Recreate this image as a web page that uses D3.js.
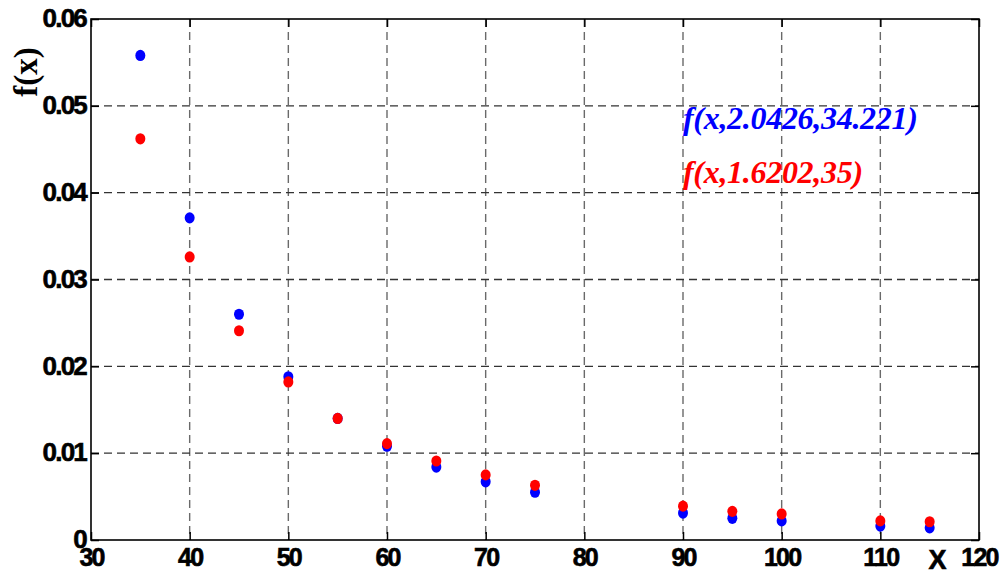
<!DOCTYPE html>
<html>
<head>
<meta charset="utf-8">
<script src="https://cdn.jsdelivr.net/npm/d3@7"></script>
<style>
  body { margin: 0; background: #fff; }
  svg { display: block; }
  .tick text { font-family: "Liberation Sans", Arial, sans-serif; font-weight: bold; font-size: 26px; letter-spacing: -1.8px; fill: #000; stroke: #000; stroke-width: 0.6px; }
</style>
</head>
<body>
<svg id="chart" width="1004" height="575"></svg>
<script>
// x positions shared by both series
var xValues = [35, 40, 45, 50, 55, 60, 65, 70, 75, 90, 95, 100, 110, 115];
// f(x, 2.0426, 34.221)
var blueValues = [0.0558, 0.0371, 0.0260, 0.0188, 0.0140, 0.0108, 0.0084, 0.0067, 0.0055, 0.0031, 0.0025, 0.0022, 0.0016, 0.0014];
// f(x, 1.6202, 35)
var redValues = [0.0462, 0.0326, 0.0241, 0.0182, 0.0140, 0.0111, 0.0091, 0.0075, 0.0063, 0.0039, 0.0033, 0.0030, 0.0022, 0.0021];
var xTicks = [30, 40, 50, 60, 70, 80, 90, 100, 110, 120];
var yTicks = [0, 0.01, 0.02, 0.03, 0.04, 0.05, 0.06];
var seriesLabels = ["f(x,2.0426,34.221)", "f(x,1.6202,35)"];
var seriesColors = ["#0000ff", "#ff0000"];

var svg = d3.select("#chart");
// plot box (note: "top" is reserved on window, so use pTop)
var pLeft = 91, pRight = 979, pTop = 19, pBottom = 540;

var x = d3.scaleLinear().domain([30, 120]).range([pLeft, pRight]);
var y = d3.scaleLinear().domain([0, 0.06]).range([pBottom, pTop]);

// grid lines
svg.append("g").selectAll("line")
    .data(xTicks.slice(1, -1))
    .enter().append("line")
    .attr("x1", d => x(d)).attr("x2", d => x(d))
    .attr("y1", pTop).attr("y2", pBottom)
    .attr("stroke", "#6a6a6a").attr("stroke-width", 1.4)
    .attr("stroke-dasharray", "8,5");

svg.append("g").selectAll("line")
    .data(yTicks.slice(1, -1))
    .enter().append("line")
    .attr("x1", pLeft).attr("x2", pRight)
    .attr("y1", d => y(d)).attr("y2", d => y(d))
    .attr("stroke", "#333").attr("stroke-width", 1.4)
    .attr("stroke-dasharray", "8,5");

// axes with inward ticks
var xAxis = svg.append("g")
    .attr("transform", "translate(0," + pBottom + ")")
    .call(d3.axisBottom(x).tickValues(xTicks).tickSize(-8).tickPadding(23).tickFormat(d3.format("d")));
var yAxis = svg.append("g")
    .attr("transform", "translate(" + pLeft + ",0)")
    .call(d3.axisLeft(y).tickValues(yTicks).tickSize(-8).tickPadding(5)
        .tickFormat(d => d === 0 ? "0" : d3.format(".2f")(d)));
svg.append("g")
    .attr("transform", "translate(" + pRight + ",0)")
    .call(d3.axisRight(y).tickValues(yTicks).tickSize(-8).tickFormat(""));
svg.append("g")
    .attr("transform", "translate(0," + pTop + ")")
    .call(d3.axisTop(x).tickValues(xTicks).tickSize(-8).tickFormat(""));

svg.selectAll(".domain").remove();
svg.selectAll(".tick line").attr("stroke", "#000").attr("stroke-width", 1.5);
yAxis.selectAll(".tick text").attr("dy", "0.3em");
xAxis.selectAll(".tick text").attr("dy", "0.12em").style("font-size", "25px");

// "X" axis name between 110 and 120
svg.append("text")
    .attr("x", x(115.8)).attr("y", 569)
    .attr("text-anchor", "middle")
    .attr("font-family", "Liberation Sans, Arial, sans-serif")
    .attr("font-weight", "bold").attr("font-size", 27)
    .attr("stroke", "#000").attr("stroke-width", 0.6)
    .text("X");

// frame
svg.append("rect")
    .attr("x", pLeft).attr("y", pTop)
    .attr("width", pRight - pLeft).attr("height", pBottom - pTop)
    .attr("fill", "none").attr("stroke", "#000").attr("stroke-width", 1.6);

// y label
svg.append("text")
    .attr("transform", "translate(37,72) rotate(-90)")
    .attr("text-anchor", "middle")
    .attr("font-family", "Liberation Serif, Times New Roman, serif")
    .attr("font-weight", "bold").attr("font-size", 33)
    .text("f(x)");

// points
var series = [blueValues, redValues];
series.forEach(function (vals, i) {
    svg.append("g").selectAll("ellipse")
        .data(xValues.map((xv, j) => [xv, vals[j]]))
        .enter().append("ellipse")
        .attr("cx", d => x(d[0]))
        .attr("cy", d => y(d[1]))
        .attr("rx", 5).attr("ry", 5.6)
        .attr("fill", seriesColors[i]);
});

// legend labels
svg.selectAll(".lbl")
    .data(seriesLabels)
    .enter().append("text")
    .attr("x", 683)
    .attr("y", (d, i) => 129 + i * 54)
    .attr("font-family", "Liberation Serif, Times New Roman, serif")
    .attr("font-weight", "bold").attr("font-style", "italic")
    .attr("font-size", 32).attr("letter-spacing", -0.3)
    .attr("fill", (d, i) => seriesColors[i])
    .text(d => d);
</script>
</body>
</html>
